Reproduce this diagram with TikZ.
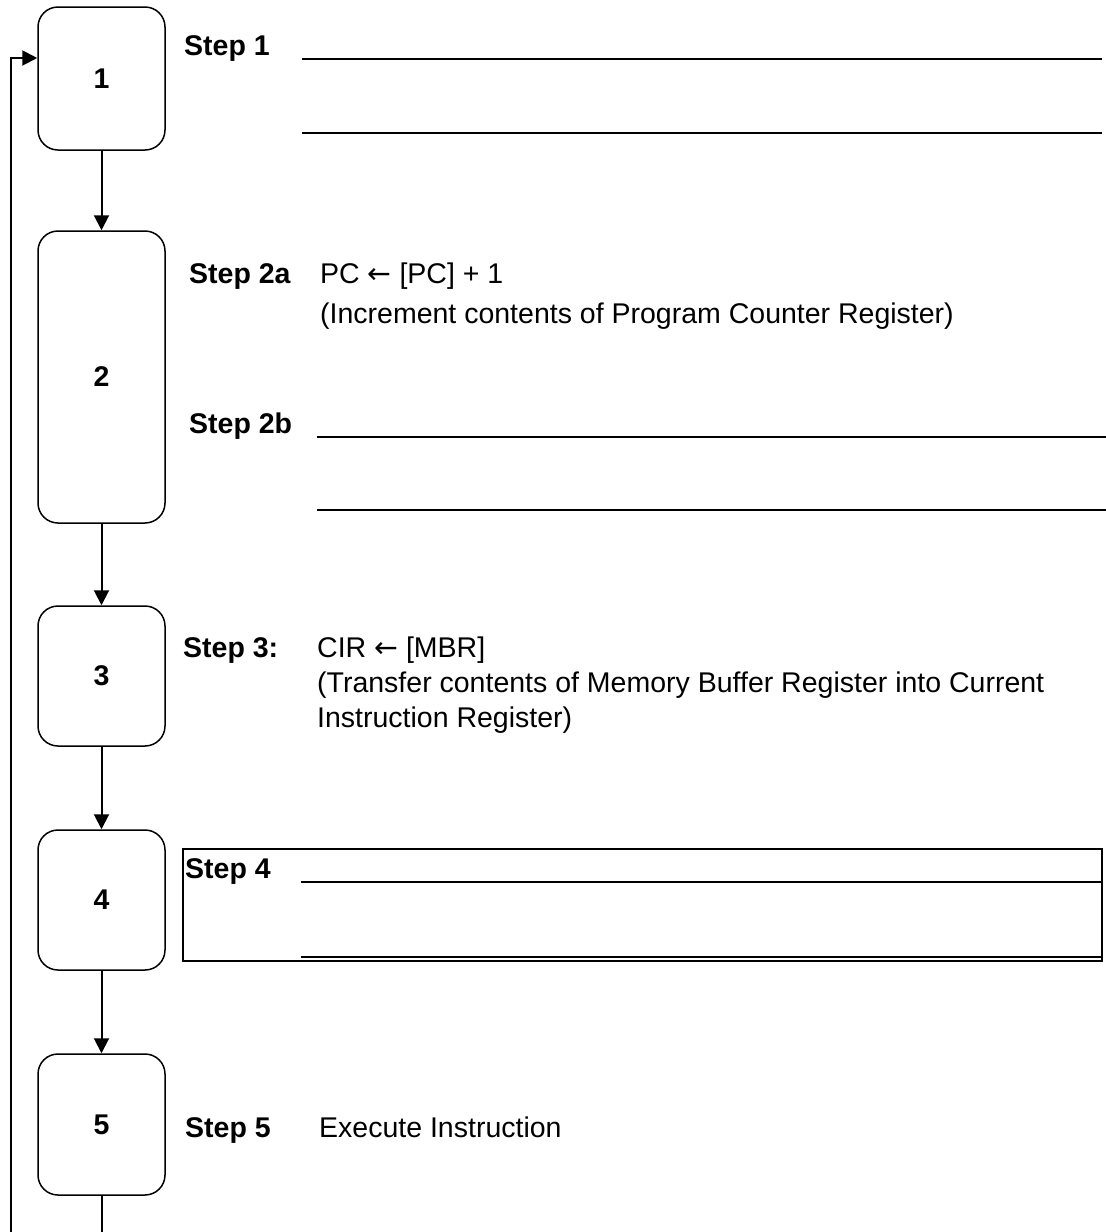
\documentclass[tikz,border=0pt]{standalone}
\usepackage{fontspec}
\setmainfont{Liberation Sans}
\newfontfamily\arrowfont{DejaVu Sans}
\usepackage{tikz}
\usetikzlibrary{arrows.meta,calc}
\newcommand{\diagfont}{\fontsize{28.5}{34}\selectfont}
\newcommand{\getsarrow}{{\arrowfont ←}}

\begin{document}
\begin{tikzpicture}[x=1pt,y=-1pt,
    stage/.style={draw, line width=1.5pt, rounded corners=20pt, minimum width=127pt, inner sep=0pt, font=\diagfont\bfseries},
    flow/.style={line width=2pt, -{Triangle[length=15pt,width=15pt]}},
    lbl/.style={anchor=base west, inner sep=0pt, font=\diagfont\bfseries},
    txt/.style={anchor=base west, inner sep=0pt, font=\diagfont},
    blank/.style={line width=2pt}]
                \useasboundingbox (0,0) rectangle (1106,1232);
                \clip (0,0) rectangle (1106,1232);
                \node[stage, minimum height=143pt] (b1) at (101.5,78.5) {1};
                \node[stage, minimum height=292pt] (b2) at (101.5,377) {2};
                \node[stage, minimum height=140pt] (b3) at (101.5,676) {3};
                \node[stage, minimum height=140pt] (b4) at (101.5,900) {4};
                \node[stage, minimum height=141pt] (b5) at (101.5,1124.5) {5};
                \draw[flow] (b1) -- (b2);
                \draw[flow] (b2) -- (b3);
                \draw[flow] (b3) -- (b4);
                \draw[flow] (b4) -- (b5);
                \coordinate (loopbase) at (11,1262);
                \coordinate (entry) at (11,58);
                \draw[flow] (b5) -- (b5 |- loopbase) -- (loopbase) -- (entry) -- (b1.west |- entry);
                \node[lbl] (s1) at (184,55) {Step 1};
                \draw[blank] (302,59) -- (1102,59);
                \draw[blank] (302,133) -- (1102,133);
                \node[lbl] (s2a) at (189,283) {Step 2a};
                \node[txt] (s2aeq) at (320,283) {PC \getsarrow{} [PC] + 1};
                \node[txt] (s2anote) at (320,323) {(Increment contents of Program Counter Register)};
                \node[lbl] (s2b) at (189,433) {Step 2b};
                \draw[blank] (317,437) -- (1106,437);
                \draw[blank] (317,510) -- (1106,510);
                \node[lbl] (s3) at (183,657) {Step 3:};
                \node[txt] (s3eq) at (317,657) {CIR \getsarrow{} [MBR]};
                \node[txt] (s3note) at (317,692) {(Transfer contents of Memory Buffer Register into Current};
                \node[txt] (s3note2) at (317,727) {Instruction Register)};
                \draw[line width=1.2pt] (183,849) rectangle (1102,961);
                \node[lbl] (s4) at (185,878) {Step 4};
                \draw[blank] (301,882) -- (1101,882);
                \draw[blank] (301,957) -- (1101,957);
                \node[lbl] (s5) at (185,1137) {Step 5};
                \node[txt] (s5do) at (319,1137) {Execute Instruction};
            \end{tikzpicture}
\end{document}
